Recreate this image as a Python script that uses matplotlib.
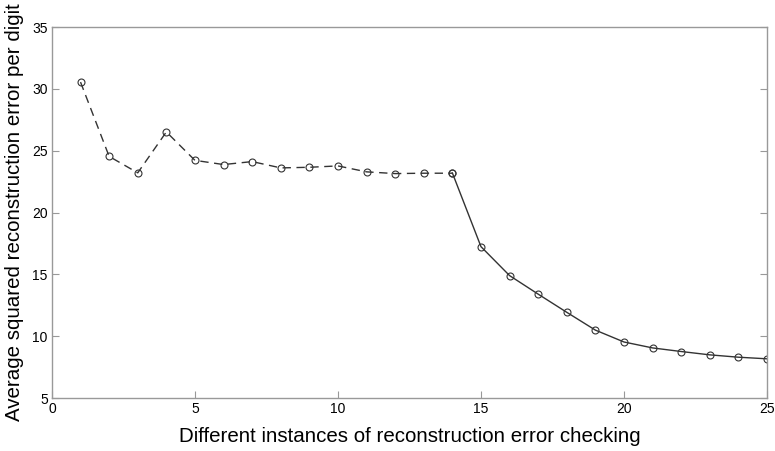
import numpy as np
import matplotlib.pyplot as plt

plt.rcParams['font.family'] = ['Liberation Sans', 'DejaVu Sans']

# average squared reconstruction error per digit, per checking instance
xs_dash = [1, 2, 3, 4, 5, 6, 7, 8, 9, 10, 11, 12, 13, 14]
err_dash = [30.55, 24.54, 23.21, 26.52, 24.22, 23.88, 24.12, 23.61, 23.66, 23.77, 23.29, 23.15, 23.18, 23.18]
xs_solid = [14, 15, 16, 17, 18, 19, 20, 21, 22, 23, 24, 25]
err_solid = [23.2, 17.24, 14.9, 13.4, 11.93, 10.49, 9.53, 9.05, 8.76, 8.49, 8.30, 8.17]

xticks = [0, 5, 10, 15, 20, 25]
yticks = [5, 10, 15, 20, 25, 30, 35]

fig = plt.figure(figsize=(7.75, 4.51), dpi=100)
ax = fig.add_axes([0.067, 0.1175, 0.9227, 0.8225])

ax.plot(xs_dash, err_dash, color='#333333', lw=1.0, ls=(0, (6, 4)),
        marker='o', ms=5, mfc='none', mec='#333333', mew=0.8)
ax.plot(xs_solid, err_solid, color='#333333', lw=1.0, ls='-',
        marker='o', ms=5, mfc='none', mec='#333333', mew=0.8)

ax.set_xlim(0, 25)
ax.set_ylim(5, 35)
ax.set_xticks(xticks)
ax.set_yticks(yticks)
ax.tick_params(direction='in', length=5, color='#999999', labelsize=10,
               top=False, right=True, pad=3)
for lab in ax.get_xticklabels() + ax.get_yticklabels():
    lab.set_family(['Liberation Sans Narrow', 'Liberation Sans', 'DejaVu Sans'])
for s in ax.spines.values():
    s.set_color('#999999')
    s.set_linewidth(1.0)

ax.set_xlabel('Different instances of reconstruction error checking', fontsize=14.8, labelpad=8)
ax.set_ylabel('Average squared reconstruction error per digit', fontsize=14.8, labelpad=6)

fig.savefig('out.png', dpi=100)
